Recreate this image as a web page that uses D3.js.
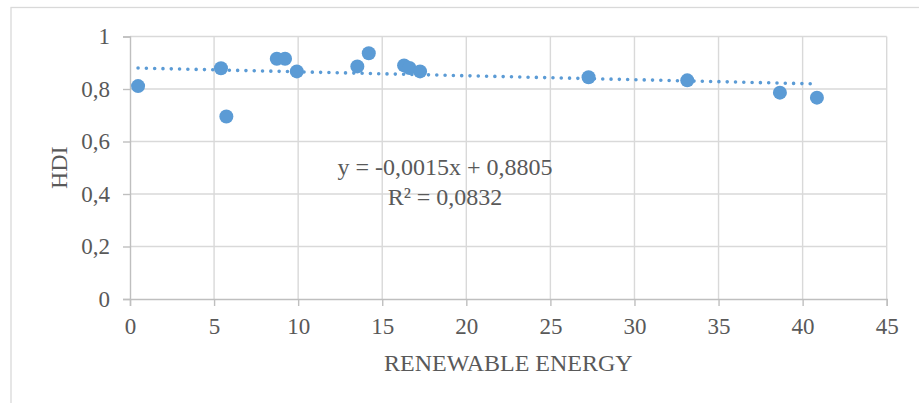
<!DOCTYPE html>
<html>
<head>
<meta charset="utf-8">
<script src="https://cdn.jsdelivr.net/npm/d3@7"></script>
<style>
  body { margin: 0; background: #fff; }
  text { font-family: "Liberation Serif", "Times New Roman", serif; fill: #595959; }
</style>
</head>
<body>
<svg id="mainsvg" width="919" height="403"></svg>
<script>
// renewable energy share (x) and HDI (y)
const renewable = [0.48, 5.41, 5.73, 8.73, 9.22, 9.92, 13.52, 14.2, 16.3, 16.62, 17.25, 27.27, 33.14, 38.65, 40.85];
const hdi = [0.811, 0.879, 0.695, 0.915, 0.915, 0.867, 0.886, 0.936, 0.89, 0.88, 0.867, 0.845, 0.833, 0.786, 0.767];
const xTicks = [0, 5, 10, 15, 20, 25, 30, 35, 40, 45];
const yTicks = [0, 0.2, 0.4, 0.6, 0.8, 1];
const slope = -0.0015;
const intercept = 0.8805;
const equation = ['y = -0,0015x + 0,8805', 'R² = 0,0832'];

const points = renewable.map((x, i) => ({ x: x, y: hdi[i] }));

const svg = d3.select('#mainsvg');
const margin = { top: 36.5, right: 32.3, bottom: 104, left: 130 };
const width = +svg.attr('width');
const height = +svg.attr('height');
const innerWidth = width - margin.left - margin.right;
const innerHeight = height - margin.top - margin.bottom;
const serif = '"Liberation Serif", "Times New Roman", serif';
const fmt = d => String(d).replace('.', ',');

// chart frame
svg.append('rect')
  .attr('x', 11).attr('y', 7.5)
  .attr('width', 930).attr('height', 420)
  .attr('fill', 'none')
  .attr('stroke', '#d9d9d9')
  .attr('stroke-width', 1.3);

const xScale = d3.scaleLinear().domain([0, 45]).range([0, innerWidth]);
const yScale = d3.scaleLinear().domain([0, 1]).range([innerHeight, 0]);

const g = svg.append('g')
  .attr('transform', `translate(${margin.left}, ${margin.top})`);

// gridlines
g.append('g')
  .selectAll('line')
  .data(yTicks.slice(1))
  .join('line')
  .attr('x1', 0).attr('x2', innerWidth)
  .attr('y1', d => yScale(d)).attr('y2', d => yScale(d))
  .attr('stroke', '#d9d9d9').attr('stroke-width', 1.4);
g.append('g')
  .selectAll('line')
  .data(xTicks.slice(1))
  .join('line')
  .attr('x1', d => xScale(d)).attr('x2', d => xScale(d))
  .attr('y1', 0).attr('y2', innerHeight)
  .attr('stroke', '#d9d9d9').attr('stroke-width', 1.4);

// axes
const yAxis = d3.axisLeft(yScale)
  .tickValues(yTicks)
  .tickFormat(fmt)
  .tickSize(7)
  .tickPadding(13);
const yg = g.append('g').call(yAxis);

const xAxis = d3.axisBottom(xScale)
  .tickValues(xTicks)
  .tickSize(7)
  .tickPadding(12);
const xg = g.append('g')
  .attr('transform', `translate(0, ${innerHeight})`)
  .call(xAxis);

[yg, xg].forEach(a => {
  a.attr('font-family', serif).attr('font-size', 23);
  a.select('.domain').attr('stroke', '#bfbfbf').attr('stroke-width', 1.4);
  a.selectAll('.tick line').attr('stroke', '#bfbfbf').attr('stroke-width', 1.4);
  a.selectAll('.tick text')
    .attr('fill', '#595959')
    .style('font-family', serif)
    .style('font-size', '23px');
});

// trend line
const xExt = d3.extent(renewable);
const trend = xExt.map(x => ({ x: x, y: slope * x + intercept }));
const line = d3.line()
  .x(d => xScale(d.x))
  .y(d => yScale(d.y));
g.append('path')
  .datum(trend)
  .attr('d', line)
  .attr('fill', 'none')
  .attr('stroke', '#5b9bd5')
  .attr('stroke-width', 3.6)
  .attr('stroke-linecap', 'round')
  .attr('stroke-dasharray', '0 8.3');

// points
g.selectAll('circle')
  .data(points)
  .join('circle')
  .attr('cx', d => xScale(d.x))
  .attr('cy', d => yScale(d.y))
  .attr('r', 7)
  .attr('fill', '#5b9bd5');

// equation label
g.append('text')
  .attr('x', 315)
  .attr('y', 138.5)
  .attr('text-anchor', 'middle')
  .style('font-size', '24px')
  .selectAll('tspan')
  .data(equation)
  .join('tspan')
  .attr('x', 315)
  .attr('dy', (d, i) => i === 0 ? 0 : 30)
  .text(d => d);

// axis titles
svg.append('text')
  .attr('x', margin.left + innerWidth / 2)
  .attr('y', 371)
  .attr('text-anchor', 'middle')
  .style('font-size', '24px')
  .text('RENEWABLE ENERGY');

svg.append('text')
  .attr('transform', `translate(66.5, ${margin.top + innerHeight / 2}) rotate(-90)`)
  .attr('text-anchor', 'middle')
  .style('font-size', '24px')
  .text('HDI');
</script>
</body>
</html>
